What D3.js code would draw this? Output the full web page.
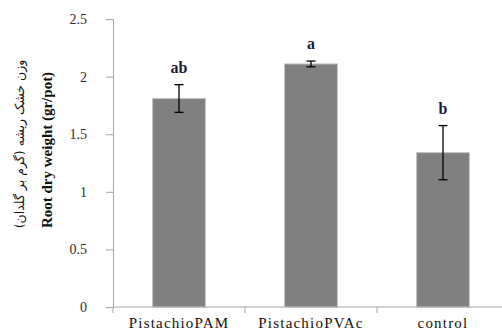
<!DOCTYPE html>
<html>
<head>
<meta charset="utf-8">
<script src="https://cdn.jsdelivr.net/npm/d3@7"></script>
<style>
  body { margin: 0; background: #fff; }
  svg { display: block; }
</style>
</head>
<body>
<div id="chart"></div>
<script>
// Data
const categories = ["PistachioPAM", "PistachioPVAc", "control"];
const means = [1.81, 2.11, 1.34];
const errors = [0.12, 0.025, 0.235];
const letters = ["ab", "a", "b"];
const yTicks = [0, 0.5, 1, 1.5, 2, 2.5];

const width = 502, height = 333;
const margin = { top: 19, right: -7, bottom: 26, left: 113 };
const serif = "Liberation Serif, Times New Roman, serif";

const svg = d3.select("#chart").append("svg")
  .attr("width", width)
  .attr("height", height);

const x = d3.scaleBand()
  .domain(categories)
  .range([margin.left, width - margin.right])
  .paddingInner(0.6)
  .paddingOuter(0.3);

const y = d3.scaleLinear()
  .domain([0, 2.5])
  .range([height - margin.bottom, margin.top]);

// Bars
svg.selectAll("rect.bar")
  .data(categories)
  .join("rect")
  .attr("class", "bar")
  .attr("x", d => x(d))
  .attr("y", (d, i) => y(means[i]))
  .attr("width", x.bandwidth())
  .attr("height", (d, i) => y(0) - y(means[i]))
  .attr("fill", "#808080")
  .attr("stroke", "#c4c4c4")
  .attr("stroke-width", 1);

// Y axis
const yAxis = svg.append("g")
  .attr("transform", `translate(${margin.left},0)`)
  .call(d3.axisLeft(y).tickValues(yTicks).tickFormat(d3.format("")).tickSize(7).tickPadding(19));
yAxis.select(".domain").attr("stroke", "#a6a6a6");
yAxis.selectAll(".tick line").attr("stroke", "#a6a6a6");
yAxis.selectAll(".tick text")
  .attr("fill", "#2b2b2b")
  .style("font-family", serif)
  .style("font-size", "14px");

// X axis: ticks sit between categories like the original
const step = x.step();
const xEdges = d3.range(categories.length + 1).map(i => margin.left + i * step);
const xAxisG = svg.append("g")
  .attr("transform", `translate(0,${y(0)})`);
xAxisG.append("line")
  .attr("x1", margin.left).attr("x2", width)
  .attr("stroke", "#a6a6a6");
xAxisG.selectAll("line.tk")
  .data(xEdges)
  .join("line")
  .attr("class", "tk")
  .attr("x1", d => d).attr("x2", d => d)
  .attr("y1", 0).attr("y2", 6)
  .attr("stroke", "#a6a6a6");
xAxisG.selectAll("text")
  .data(categories)
  .join("text")
  .attr("x", d => x(d) + x.bandwidth() / 2)
  .attr("y", 21)
  .attr("text-anchor", "middle")
  .attr("fill", "#111")
  .style("font-family", serif)
  .style("font-size", "15px")
  .style("letter-spacing", "1.2px")
  .text(d => d);

// Error bars
const eb = svg.selectAll("g.err")
  .data(categories)
  .join("g")
  .attr("class", "err")
  .attr("transform", d => `translate(${x(d) + x.bandwidth() / 2},0)`);
eb.append("line")
  .attr("y1", (d, i) => y(means[i] + errors[i]))
  .attr("y2", (d, i) => y(means[i] - errors[i]))
  .attr("stroke", "#000").attr("stroke-width", 1.3);
eb.append("line")
  .attr("x1", -4.5).attr("x2", 4.5)
  .attr("y1", (d, i) => y(means[i] + errors[i]))
  .attr("y2", (d, i) => y(means[i] + errors[i]))
  .attr("stroke", "#000").attr("stroke-width", 1.3);
eb.append("line")
  .attr("x1", -4.5).attr("x2", 4.5)
  .attr("y1", (d, i) => y(means[i] - errors[i]))
  .attr("y2", (d, i) => y(means[i] - errors[i]))
  .attr("stroke", "#000").attr("stroke-width", 1.3);

// Significance letters
eb.append("text")
  .attr("y", (d, i) => y(means[i] + errors[i]) - 12)
  .attr("text-anchor", "middle")
  .attr("fill", "#1c1c3a")
  .style("font-family", serif)
  .style("font-size", "16px")
  .style("font-weight", "bold")
  .text((d, i) => letters[i]);

// Y title, two lines (Persian + English)
svg.append("text")
  .attr("transform", `translate(24,144) rotate(-90)`)
  .attr("text-anchor", "middle")
  .attr("fill", "#111")
  .style("font-family", "DejaVu Sans, sans-serif")
  .style("font-size", "12.5px")
  .attr("direction", "rtl")
  .text("وزن خشک ریشه (گرم بر گلدان)");
svg.append("text")
  .attr("transform", `translate(52,150) rotate(-90)`)
  .attr("text-anchor", "middle")
  .attr("fill", "#111")
  .style("font-family", serif)
  .style("font-size", "15px")
  .style("font-weight", "bold")
  .text("Root dry weight (gr/pot)");
</script>
</body>
</html>
